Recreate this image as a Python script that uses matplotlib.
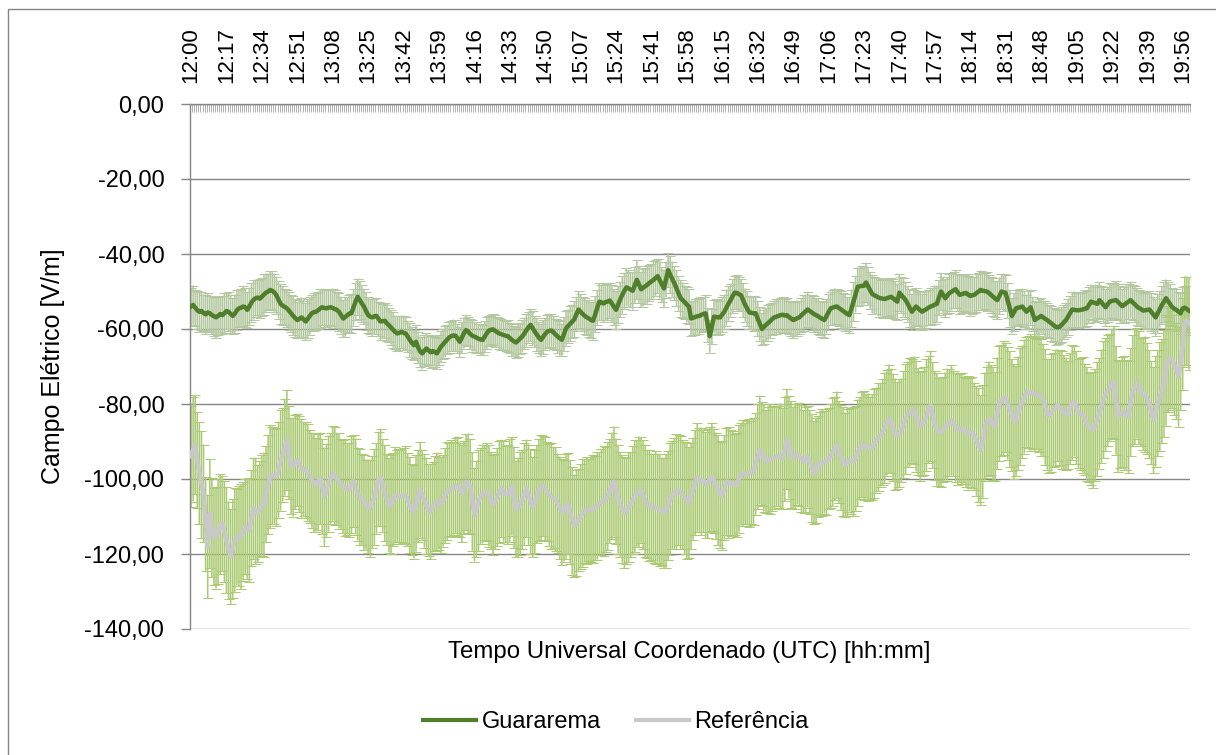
import numpy as np
import matplotlib
matplotlib.use("Agg")
import matplotlib.pyplot as plt
from matplotlib.lines import Line2D
from matplotlib.patches import Rectangle

plt.rcParams['font.family'] = ['Liberation Sans', 'DejaVu Sans']

# categories: one per minute from 12:00 to 19:59 (UTC)
categories = [f"{12 + m // 60:02d}:{m % 60:02d}" for m in range(480)]
tick_labels = ["12:00", "12:17", "12:34", "12:51", "13:08", "13:25", "13:42", "13:59",
               "14:16", "14:33", "14:50", "15:07", "15:24", "15:41", "15:58", "16:15",
               "16:32", "16:49", "17:06", "17:23", "17:40", "17:57", "18:14", "18:31",
               "18:48", "19:05", "19:22", "19:39", "19:56"]

guararema = [
    -54.0, -53.6, -54.3, -55.0, -55.4, -55.2, -55.7, -56.1, -55.6, -55.8, -56.3, -56.6, -56.9, -56.5, -56.0, -56.3, -55.8, -55.2, -55.4, -56.0,
    -56.5, -55.9, -55.0, -54.5, -54.3, -54.0, -54.2, -54.9, -54.0, -52.9, -52.2, -51.8, -51.6, -51.9, -51.4, -50.8, -50.3, -50.0, -49.6, -49.8,
    -50.3, -51.0, -52.2, -53.3, -53.8, -54.1, -54.5, -55.1, -55.8, -56.5, -57.1, -57.6, -57.3, -56.9, -57.4, -58.0, -57.3, -56.5, -55.8, -55.5,
    -55.4, -55.0, -54.5, -54.2, -54.4, -54.5, -54.3, -54.2, -54.4, -54.7, -54.9, -55.4, -56.3, -57.2, -56.8, -56.3, -55.9, -55.8, -54.2, -52.6,
    -51.4, -52.3, -53.2, -54.0, -55.2, -56.3, -56.7, -56.9, -56.6, -56.5, -57.3, -58.0, -57.9, -57.8, -58.5, -59.0, -59.6, -60.2, -60.8, -61.2,
    -61.0, -60.8, -61.0, -61.2, -62.0, -62.9, -63.7, -64.3, -63.4, -64.9, -66.0, -66.5, -65.8, -65.2, -65.7, -66.2, -65.9, -66.1, -66.5, -65.6,
    -64.7, -64.1, -63.4, -62.8, -62.2, -61.9, -61.7, -61.8, -62.6, -63.4, -62.3, -61.1, -60.3, -60.7, -61.3, -61.8, -62.0, -62.3, -62.6, -62.8,
    -62.9, -62.0, -61.1, -60.4, -60.2, -60.1, -60.5, -60.9, -61.2, -61.4, -61.6, -61.8, -61.9, -62.4, -62.9, -63.3, -63.6, -63.1, -62.5, -62.0,
    -61.2, -60.3, -59.5, -58.9, -59.8, -60.7, -61.5, -62.3, -62.9, -62.1, -61.3, -60.7, -60.5, -60.4, -60.9, -61.5, -62.0, -62.5, -62.9, -61.4,
    -59.8, -59.2, -58.6, -58.0, -57.4, -56.0, -54.8, -55.4, -56.0, -56.5, -56.9, -57.2, -57.6, -57.8, -56.1, -54.3, -52.7, -52.9, -53.2, -52.8,
    -52.7, -52.4, -53.2, -54.1, -54.9, -53.5, -52.1, -50.9, -49.8, -48.9, -49.2, -49.5, -49.8, -48.3, -46.9, -48.1, -49.4, -49.0, -48.6, -48.2,
    -47.7, -47.3, -46.9, -46.4, -45.9, -47.0, -48.1, -49.2, -46.8, -44.3, -45.5, -46.7, -47.8, -49.1, -50.5, -51.8, -52.3, -52.9, -53.5, -54.0,
    -57.2, -57.0, -56.8, -56.6, -56.5, -56.2, -56.0, -55.8, -58.9, -61.9, -59.3, -56.7, -56.8, -56.9, -56.9, -56.1, -55.4, -54.3, -53.2, -52.3,
    -51.2, -50.3, -50.4, -50.7, -51.0, -52.3, -53.6, -54.6, -55.6, -55.7, -55.8, -55.8, -57.2, -58.6, -60.0, -59.4, -58.9, -58.4, -57.9, -57.3,
    -56.9, -56.7, -56.5, -56.3, -56.2, -56.4, -56.3, -56.8, -57.2, -57.6, -57.4, -57.1, -56.9, -56.3, -55.8, -55.3, -54.8, -55.2, -55.6, -56.0,
    -56.3, -56.6, -57.0, -57.3, -57.6, -56.6, -55.5, -54.5, -54.3, -54.1, -54.0, -54.4, -54.8, -55.2, -55.6, -56.0, -56.3, -54.5, -52.7, -50.7,
    -48.7, -48.6, -48.5, -48.5, -47.6, -48.6, -49.7, -50.7, -51.0, -51.3, -51.6, -51.8, -51.9, -52.0, -51.8, -51.6, -51.4, -51.8, -52.3, -52.7,
    -50.3, -51.0, -51.6, -52.3, -53.3, -54.4, -55.4, -54.7, -54.0, -54.5, -55.0, -55.4, -55.0, -54.7, -54.3, -54.0, -53.8, -53.5, -53.3, -51.6,
    -50.0, -50.9, -51.8, -51.1, -50.4, -50.1, -49.7, -49.4, -50.2, -50.9, -50.7, -50.5, -50.4, -50.8, -51.2, -51.0, -50.9, -50.4, -50.0, -49.6,
    -49.8, -49.9, -50.0, -50.4, -50.9, -51.4, -51.9, -52.3, -51.2, -50.0, -50.2, -50.4, -52.4, -54.5, -56.5, -55.5, -54.5, -54.3, -54.2, -54.0,
    -54.7, -55.4, -54.8, -54.2, -55.9, -57.6, -57.2, -56.9, -56.5, -56.9, -57.3, -57.6, -58.1, -58.5, -59.0, -59.4, -59.5, -59.4, -58.8, -58.2,
    -57.6, -56.7, -55.7, -54.8, -54.9, -55.0, -55.0, -54.9, -54.8, -54.6, -54.5, -53.6, -52.7, -52.9, -53.1, -53.3, -52.3, -52.9, -53.6, -54.2,
    -53.4, -52.7, -52.5, -52.4, -52.3, -52.8, -53.4, -53.9, -53.5, -53.1, -52.7, -52.3, -52.9, -53.4, -54.0, -54.4, -54.7, -55.1, -55.0, -54.9,
    -54.8, -55.5, -56.2, -56.9, -55.8, -54.7, -53.6, -52.7, -51.8, -52.6, -53.4, -54.2, -54.6, -54.9, -55.4, -55.8, -54.5, -54.3, -54.7, -55.1,
]

guararema_err = [
    5.0, 5.2, 4.8, 5.1, 5.4, 5.0, 4.9, 5.3, 5.1, 4.7, 5.0, 5.2, 5.5, 5.1, 4.8, 5.0, 5.3, 4.9, 5.2, 5.0,
    4.8, 5.1, 5.3, 4.9, 5.0, 5.4, 5.2, 4.8, 5.0, 5.1, 5.3, 4.9, 4.7, 5.2, 5.0, 5.4, 5.1, 4.8, 5.0, 5.2,
    5.1, 4.9, 5.0, 5.3, 5.2, 4.8, 5.0, 5.1, 4.9, 5.2, 5.0, 4.8, 5.1, 5.3, 5.0, 4.9, 5.2, 5.0, 4.8, 5.1,
    4.9, 5.0, 5.2, 4.8, 5.1, 5.0, 4.7, 4.9, 5.2, 5.0, 4.8, 5.1, 4.9, 5.0, 5.3, 4.8, 5.0, 5.2, 4.9, 5.0,
    4.8, 5.0, 4.9, 4.7, 5.0, 4.8, 4.6, 4.9, 4.7, 4.8, 4.6, 4.9, 4.5, 4.7, 4.8, 4.5, 4.6, 4.8, 4.4, 4.7,
    4.5, 4.3, 4.6, 4.4, 4.2, 4.5, 4.3, 4.1, 4.4, 4.2, 4.0, 4.3, 4.1, 4.2, 4.0, 4.3, 4.1, 3.9, 4.2, 4.0,
    4.1, 4.0, 4.2, 3.9, 4.1, 4.0, 4.2, 4.1, 3.9, 4.0, 4.2, 4.1, 4.0, 3.9, 4.1, 4.2, 4.0, 4.1, 3.9, 4.2,
    4.0, 4.1, 4.2, 4.0, 3.9, 4.1, 4.3, 4.0, 4.2, 4.1, 3.9, 4.0, 4.2, 4.1, 4.3, 4.0, 4.2, 4.4, 4.1, 4.3,
    4.2, 4.4, 4.1, 4.3, 4.5, 4.2, 4.4, 4.1, 4.3, 4.5, 4.2, 4.4, 4.6, 4.3, 4.5, 4.2, 4.4, 4.6, 4.3, 4.5,
    4.6, 4.4, 4.7, 4.5, 4.8, 4.6, 4.9, 4.7, 4.5, 4.8, 4.6, 4.9, 4.7, 5.0, 4.8, 4.6, 4.9, 4.7, 5.0, 4.8,
    4.9, 4.7, 5.0, 4.8, 5.1, 4.9, 4.7, 5.0, 4.8, 5.1, 4.9, 4.7, 5.0, 4.8, 5.2, 4.9, 4.7, 5.0, 4.8, 5.1,
    4.9, 4.7, 5.0, 4.8, 4.6, 4.9, 4.7, 5.0, 4.8, 4.6, 4.9, 4.7, 4.5, 4.8, 4.6, 4.9, 4.7, 4.5, 4.8, 4.6,
    4.7, 4.5, 4.8, 4.6, 4.9, 4.7, 4.5, 4.8, 4.6, 4.4, 4.7, 4.5, 4.8, 4.6, 4.4, 4.7, 4.5, 4.8, 4.6, 4.4,
    4.6, 4.4, 4.7, 4.5, 4.3, 4.6, 4.4, 4.7, 4.5, 4.3, 4.6, 4.4, 4.7, 4.5, 4.3, 4.6, 4.4, 4.7, 4.5, 4.3,
    4.5, 4.7, 4.4, 4.6, 4.8, 4.5, 4.7, 4.4, 4.6, 4.8, 4.5, 4.7, 4.4, 4.6, 4.8, 4.5, 4.7, 4.4, 4.6, 4.8,
    4.6, 4.8, 4.5, 4.7, 4.9, 4.6, 4.8, 4.5, 4.7, 4.9, 4.6, 4.8, 5.0, 4.7, 4.9, 4.6, 4.8, 5.0, 5.2, 4.9,
    5.1, 4.9, 5.2, 5.0, 5.3, 5.1, 4.9, 5.2, 5.0, 4.8, 5.1, 4.9, 5.2, 5.0, 4.8, 5.1, 4.9, 5.2, 5.0, 4.8,
    5.0, 4.8, 5.1, 4.9, 4.7, 5.0, 4.8, 5.1, 4.9, 4.7, 5.0, 4.8, 5.1, 4.9, 4.7, 5.0, 4.8, 5.1, 4.9, 4.7,
    5.0, 4.8, 5.1, 4.9, 5.2, 5.0, 4.8, 5.1, 4.9, 5.2, 5.0, 4.8, 5.1, 4.9, 5.2, 5.0, 4.8, 5.1, 4.9, 5.2,
    5.0, 4.8, 5.1, 4.9, 4.7, 5.0, 4.8, 5.1, 4.9, 4.7, 5.0, 4.8, 4.6, 4.9, 4.7, 5.0, 4.8, 4.6, 4.9, 4.7,
    4.8, 4.6, 4.9, 4.7, 4.5, 4.8, 4.6, 4.9, 4.7, 4.5, 4.8, 4.6, 4.4, 4.7, 4.5, 4.8, 4.6, 4.4, 4.7, 4.5,
    4.6, 4.8, 4.5, 4.7, 4.9, 4.6, 4.8, 4.5, 4.7, 4.9, 4.6, 4.8, 4.5, 4.7, 4.9, 4.6, 4.8, 4.5, 4.7, 4.9,
    4.7, 4.9, 4.6, 4.8, 5.0, 4.7, 4.9, 4.6, 4.8, 5.0, 4.7, 4.9, 4.6, 4.8, 5.0, 4.7, 4.9, 4.6, 4.8, 5.0,
    4.9, 5.1, 4.8, 5.0, 5.2, 4.9, 5.1, 5.3, 5.0, 5.2, 5.4, 5.1, 5.3, 5.5, 5.2, 5.4, 5.6, 5.8, 6.2, 6.5,
]

referencia = [
    -94.0, -92.0, -90.9, -95.0, -98.5, -101.5, -103.8, -112.0, -118.0, -109.2, -113.0, -115.4, -115.6, -114.0, -112.0, -111.8, -114.0, -116.3, -119.0, -120.7,
    -118.5, -116.3, -115.5, -115.2, -115.4, -114.0, -112.7, -113.3, -113.6, -110.5, -107.8, -108.5, -109.2, -108.0, -107.0, -106.9, -104.0, -101.5, -99.4, -99.0,
    -99.3, -99.4, -97.5, -95.0, -93.5, -91.5, -89.6, -93.0, -96.5, -96.8, -95.5, -94.9, -96.0, -97.2, -97.4, -97.6, -98.2, -99.3, -100.3, -101.0,
    -101.5, -100.8, -99.8, -102.0, -104.7, -103.0, -101.2, -99.8, -98.5, -99.2, -100.0, -100.5, -101.3, -102.0, -102.3, -102.6, -102.9, -101.5, -100.6, -102.0,
    -104.0, -104.8, -105.5, -106.2, -106.8, -107.3, -107.8, -106.2, -104.9, -102.5, -100.0, -99.6, -101.7, -103.8, -105.5, -107.0, -106.8, -105.5, -104.3, -104.5,
    -104.7, -104.6, -104.4, -104.3, -105.5, -107.0, -108.2, -108.7, -106.5, -104.5, -102.9, -104.2, -105.8, -107.2, -108.3, -108.7, -107.5, -106.5, -106.0, -106.4,
    -106.9, -105.8, -104.4, -103.2, -102.8, -102.6, -102.5, -101.8, -101.9, -102.9, -103.8, -102.3, -100.9, -101.2, -102.0, -106.0, -109.5, -108.0, -105.8, -104.5,
    -104.0, -103.6, -103.4, -104.5, -105.8, -106.9, -106.0, -104.8, -103.5, -102.5, -103.3, -104.0, -104.1, -103.0, -102.0, -105.0, -108.0, -107.6, -106.5, -105.5,
    -104.0, -102.5, -104.2, -106.0, -107.5, -106.0, -104.0, -102.9, -102.3, -101.9, -102.5, -103.4, -104.2, -104.6, -105.0, -105.4, -106.5, -107.7, -108.8, -108.4,
    -107.3, -106.6, -108.8, -111.2, -112.5, -111.8, -110.9, -110.0, -109.0, -108.5, -108.4, -108.3, -108.2, -108.0, -107.8, -107.2, -106.6, -106.2, -105.8, -105.4,
    -104.6, -103.2, -101.8, -100.7, -103.3, -105.4, -106.8, -108.0, -109.0, -108.5, -107.5, -106.8, -105.6, -104.6, -103.8, -103.4, -102.9, -104.2, -105.8, -106.6,
    -107.0, -107.4, -107.8, -107.6, -107.8, -108.2, -108.6, -109.0, -108.5, -107.0, -105.3, -104.2, -103.8, -103.4, -103.0, -103.6, -104.2, -105.0, -105.9, -106.3,
    -104.5, -102.6, -101.0, -99.6, -100.2, -100.6, -100.5, -101.6, -101.2, -100.1, -99.4, -100.5, -101.8, -103.0, -104.2, -104.3, -102.3, -100.7, -100.9, -101.1,
    -101.3, -101.5, -101.6, -100.0, -98.7, -98.4, -98.6, -98.5, -98.4, -98.2, -98.0, -96.0, -94.0, -92.3, -93.3, -94.4, -95.3, -95.0, -94.7, -94.5,
    -94.3, -94.1, -94.0, -94.0, -94.5, -92.0, -89.4, -91.5, -93.5, -94.5, -94.0, -93.4, -93.5, -94.5, -95.4, -94.8, -94.1, -95.5, -97.0, -98.3,
    -97.6, -96.6, -95.8, -95.6, -95.5, -95.4, -94.6, -93.9, -92.8, -91.8, -90.9, -92.8, -94.2, -95.4, -96.3, -95.6, -95.0, -95.1, -95.3, -94.5,
    -93.0, -91.8, -90.9, -91.1, -91.3, -91.5, -91.7, -91.5, -90.5, -89.6, -88.9, -88.2, -87.5, -86.3, -85.0, -84.0, -84.5, -86.2, -88.0, -88.4,
    -87.8, -87.0, -85.5, -84.0, -82.8, -82.2, -81.8, -81.7, -83.2, -84.7, -86.0, -85.3, -84.5, -83.0, -81.5, -80.5, -83.0, -85.8, -86.8, -87.5,
    -87.6, -86.9, -86.0, -85.5, -85.0, -84.4, -85.2, -86.2, -86.6, -86.5, -86.5, -87.0, -87.6, -87.7, -87.5, -87.6, -88.6, -89.8, -91.0, -92.3,
    -90.0, -86.0, -84.8, -84.0, -84.3, -85.2, -86.0, -82.5, -79.8, -79.0, -78.4, -78.3, -79.8, -81.4, -83.0, -84.6, -84.5, -82.6, -80.6, -79.4,
    -78.0, -76.8, -76.8, -76.9, -77.1, -77.3, -77.4, -77.6, -78.2, -78.9, -80.8, -82.7, -83.1, -82.3, -81.6, -81.0, -80.4, -80.9, -81.6, -82.2,
    -82.6, -82.9, -81.2, -79.6, -79.3, -81.0, -82.5, -82.7, -82.9, -84.0, -85.3, -86.2, -86.5, -86.9, -85.6, -84.0, -82.5, -80.6, -78.9, -77.5,
    -76.5, -75.6, -74.6, -74.2, -79.0, -83.2, -82.7, -82.1, -82.3, -82.9, -83.4, -79.5, -76.5, -75.4, -74.5, -75.6, -76.8, -77.3, -77.4, -78.5,
    -80.0, -82.3, -84.3, -82.0, -79.8, -78.0, -76.5, -74.5, -71.0, -68.0, -67.9, -68.1, -69.6, -71.2, -72.7, -69.0, -64.0, -58.0, -57.8, -58.5,
]

referencia_err = [
    13.5, 14.0, 13.2, 12.8, 13.6, 14.2, 13.0, 12.5, 13.8, 14.5, 13.2, 12.9, 13.6, 14.0, 13.3, 12.7, 13.5, 14.1, 13.0, 12.6,
    13.2, 13.8, 12.9, 13.4, 14.0, 13.1, 12.6, 13.3, 13.9, 12.8, 13.5, 14.2, 13.0, 12.7, 13.4, 13.9, 12.8, 13.2, 13.7, 13.0,
    12.6, 13.1, 12.8, 13.4, 12.5, 12.9, 13.3, 12.4, 12.8, 13.2, 12.6, 12.3, 12.9, 13.1, 12.5, 12.8, 13.0, 12.4, 12.7, 13.2,
    12.5, 12.9, 12.2, 12.7, 13.1, 12.4, 12.8, 12.1, 12.6, 13.0, 12.3, 12.7, 12.0, 12.5, 12.9, 12.2, 12.6, 13.0, 12.3, 12.8,
    12.4, 12.9, 12.2, 12.7, 12.0, 12.5, 12.9, 12.3, 12.8, 12.1, 12.6, 13.0, 12.4, 12.8, 12.2, 12.6, 13.1, 12.4, 12.9, 12.3,
    12.7, 12.2, 12.6, 13.0, 12.4, 12.8, 12.1, 12.5, 12.9, 12.3, 12.7, 12.0, 12.5, 12.9, 12.3, 12.7, 12.1, 12.6, 13.0, 12.4,
    12.8, 12.2, 12.6, 13.1, 12.5, 12.9, 12.3, 12.7, 13.2, 12.6, 13.0, 12.4, 12.8, 13.3, 12.7, 13.1, 12.5, 12.9, 13.4, 12.8,
    13.2, 12.6, 13.0, 13.5, 12.9, 13.3, 12.7, 13.1, 13.6, 13.0, 13.4, 12.8, 13.2, 13.7, 13.1, 13.5, 12.9, 13.3, 13.8, 13.2,
    13.6, 13.0, 13.4, 13.9, 13.3, 13.7, 13.1, 13.5, 14.0, 13.4, 13.8, 13.2, 13.6, 14.1, 13.5, 13.9, 13.3, 13.7, 14.2, 13.6,
    14.0, 13.4, 13.8, 14.3, 13.7, 14.1, 13.5, 13.9, 14.4, 13.8, 14.2, 13.6, 14.0, 14.5, 13.9, 14.3, 13.7, 14.1, 14.6, 14.0,
    14.4, 13.8, 14.2, 14.7, 14.1, 14.5, 13.9, 14.3, 14.8, 14.2, 14.6, 14.0, 14.4, 14.9, 14.3, 14.7, 14.1, 14.5, 15.0, 14.4,
    14.8, 14.2, 14.6, 15.1, 14.5, 14.9, 14.3, 14.7, 15.2, 14.6, 15.0, 14.4, 14.8, 15.3, 14.7, 15.1, 14.5, 14.9, 15.4, 14.8,
    14.2, 13.6, 14.0, 14.5, 13.9, 14.3, 13.7, 14.1, 14.6, 14.0, 14.4, 13.8, 14.2, 14.7, 14.1, 14.5, 13.9, 14.3, 14.8, 14.2,
    14.0, 13.4, 13.8, 14.3, 13.7, 14.1, 13.5, 13.9, 14.4, 13.8, 14.2, 13.6, 14.0, 14.5, 13.9, 14.3, 13.7, 14.1, 14.6, 14.0,
    13.8, 13.2, 13.6, 14.1, 13.5, 13.9, 13.3, 13.7, 14.2, 13.6, 14.0, 13.4, 13.8, 14.3, 13.7, 14.1, 13.5, 13.9, 14.4, 13.8,
    14.0, 13.4, 13.8, 14.3, 13.7, 14.1, 13.5, 13.9, 14.4, 13.8, 14.2, 13.6, 14.0, 14.5, 13.9, 14.3, 13.7, 14.1, 14.6, 14.0,
    14.2, 13.6, 14.0, 14.5, 13.9, 14.3, 13.7, 14.1, 14.6, 14.0, 14.4, 13.8, 14.2, 14.7, 14.1, 14.5, 13.9, 14.3, 14.8, 14.2,
    14.4, 13.8, 14.2, 14.7, 14.1, 14.5, 13.9, 14.3, 14.8, 14.2, 14.6, 14.0, 14.4, 14.9, 14.3, 14.7, 14.1, 14.5, 15.0, 14.4,
    14.6, 14.0, 14.4, 14.9, 14.3, 14.7, 14.1, 14.5, 15.0, 14.4, 14.8, 14.2, 14.6, 15.1, 14.5, 14.9, 14.3, 14.7, 15.2, 14.6,
    15.0, 14.4, 14.8, 15.3, 14.7, 15.1, 14.5, 14.9, 15.4, 14.8, 15.2, 14.6, 15.0, 15.5, 14.9, 15.3, 14.7, 15.1, 15.6, 15.0,
    15.2, 14.6, 15.0, 15.5, 14.9, 15.3, 14.7, 15.1, 15.6, 15.0, 15.4, 14.8, 15.2, 15.7, 15.1, 15.5, 14.9, 15.3, 15.8, 15.2,
    15.0, 14.4, 14.8, 15.3, 14.7, 15.1, 14.5, 14.9, 15.4, 14.8, 15.2, 14.6, 15.0, 15.5, 14.9, 15.3, 14.7, 15.1, 15.6, 15.0,
    14.8, 14.2, 14.6, 15.1, 14.5, 14.9, 14.3, 14.7, 15.2, 14.6, 15.0, 14.4, 14.8, 15.3, 14.7, 15.1, 14.5, 14.9, 15.4, 14.8,
    14.4, 13.8, 14.2, 14.7, 14.1, 14.5, 13.9, 14.3, 14.8, 14.2, 13.6, 13.0, 13.4, 12.9, 13.3, 12.7, 12.2, 12.0, 11.8, 12.3,
]

series_names = ["Guararema", "Referência"]
y_ticks = [-140, -120, -100, -80, -60, -40, -20, 0]

GRID = '#868686'
C_GUA = '#4F7F2B'
C_GUA_ERR = '#B4C8A0'
C_REF = '#C8C8C8'
C_REF_ERR = '#ABCA74'

W, H = 1216, 755
fig = plt.figure(figsize=(W / 100, H / 100), dpi=100)
ax = fig.add_axes([190 / W, 1 - 629 / H, 1000 / W, 525 / H])

x = np.arange(len(categories))

eg = ax.errorbar(x, guararema, yerr=guararema_err, fmt='none', ecolor=C_GUA_ERR,
                 elinewidth=1.15, capsize=3.5, capthick=0.75, zorder=2)
er = ax.errorbar(x, referencia, yerr=referencia_err, fmt='none', ecolor=C_REF_ERR,
                 elinewidth=1.15, capsize=3.5, capthick=0.75, zorder=2.5)
for cont in (eg, er):
    for col in cont[2]:
        col.set_antialiased(True)
        col.set_snap(False)
    for cap in cont[1]:
        cap.set_snap(False)
        cap.set_color('#8FB154' if cont is er else '#8FAA76')
ax.plot(x, referencia, color=C_REF, lw=3.2, zorder=3, solid_joinstyle='round')
ax.plot(x, guararema, color=C_GUA, lw=3.2, zorder=4, solid_joinstyle='round')

ax.set_xlim(-0.5, len(categories) - 0.5)
ax.set_ylim(-140, 0)

ax.set_yticks(y_ticks)
ax.set_yticklabels([f"{v:.2f}".replace('.', ',') for v in y_ticks], fontsize=17)
ax.yaxis.grid(True, color=GRID, lw=1.0)
ax.set_axisbelow(True)
ax.tick_params(axis='y', direction='out', length=6.5, width=1.0, color=GRID, pad=12)

ax.xaxis.tick_top()
tick_pos = [categories.index(t) for t in tick_labels]
ax.set_xticks(tick_pos)
ax.set_xticklabels(tick_labels, rotation=90, fontsize=16)
ax.tick_params(axis='x', which='major', length=0, pad=15, top=True, bottom=False)
ax.set_xticks(np.arange(-0.5, len(categories), 1), minor=True)
ax.tick_params(axis='x', which='minor', direction='in', length=5.5, width=0.6,
               color='#A6A6A6', top=True, bottom=False)

for s in ['right', 'bottom']:
    ax.spines[s].set_visible(False)
for s in ['left', 'top']:
    ax.spines[s].set_color(GRID)
    ax.spines[s].set_linewidth(1.0)

ax.set_ylabel("Campo Elétrico [V/m]", fontsize=18, labelpad=14)
fig.text(689 / W, 1 - 652 / H, "Tempo Universal Coordenado (UTC) [hh:mm]",
         ha='center', va='center', fontsize=17.3)

handles = [Line2D([], [], color=C_GUA, lw=3.0), Line2D([], [], color=C_REF, lw=3.0)]
fig.legend(handles, series_names, loc='center', bbox_to_anchor=(616 / W, 1 - 722 / H),
           ncol=2, frameon=False, fontsize=17, handlelength=2.25, handletextpad=0.25,
           columnspacing=1.45, borderpad=0.2)

fig.add_artist(Rectangle((8 / W, -0.05), 1.0, (1 - 9 / H) + 0.05, transform=fig.transFigure,
                         fill=False, edgecolor=GRID, lw=1.0))

fig.savefig('out.png', dpi=100)
